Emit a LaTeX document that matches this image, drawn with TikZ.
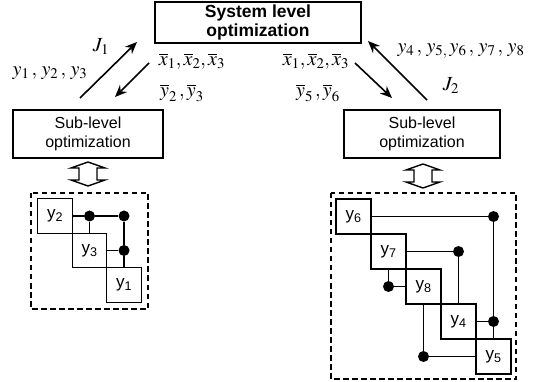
\documentclass[tikz,border=0pt]{standalone}
\usepackage{mathptmx}
\usepackage{fontspec}
\setsansfont{Liberation Sans}
\usetikzlibrary{arrows.meta}
\begin{document}
\begin{tikzpicture}[x=1pt,y=-1pt,
  box/.style={draw, line width=1.4pt, inner sep=0pt, align=center},
  cell/.style={draw, line width=1.3pt, minimum size=34.5pt, inner sep=0pt, font=\sffamily\fontsize{17}{17}\selectfont},
  dotn/.style={circle, fill, inner sep=0pt, minimum size=11pt},
  dsml/.style={line width=1.3pt},
  dashbox/.style={draw, line width=1.4pt, dash pattern=on 5.5pt off 3.5pt},
  arr/.style={-{Stealth[length=12pt,width=10pt]}, line width=1.6pt},
  lab/.style={inner sep=0pt, font=\fontsize{20}{20}\selectfont},
  dbl/.style={draw, line width=1.4pt, fill=white}
]
\useasboundingbox (0,0) rectangle (541,382);

% system box
\node[box, minimum width=206pt, minimum height=41pt,
      font=\sffamily\bfseries\fontsize{17.5}{18.5}\selectfont] (sys) at (258,22.5)
      {System level\\optimization};

% sub-level boxes
\node[box, minimum width=150pt, minimum height=48pt,
      font=\sffamily\fontsize{16}{19}\selectfont] (subL) at (88,134)
      {Sub-level\\optimization};
\node[box, minimum width=156pt, minimum height=48pt,
      font=\sffamily\fontsize{16}{19}\selectfont] (subR) at (422,134)
      {Sub-level\\optimization};

% arrows
\coordinate (a1s) at (80,98);  \coordinate (a1e) at (137,42);
\coordinate (a2s) at (149,63); \coordinate (a2e) at (115,97);
\coordinate (a3s) at (355,63); \coordinate (a3e) at (392,98);
\coordinate (a4s) at (427,100);\coordinate (a4e) at (368,41);
\draw[arr] (a1s) -- (a1e);
\draw[arr] (a2s) -- (a2e);
\draw[arr] (a3s) -- (a3e);
\draw[arr] (a4s) -- (a4e);

% labels
\node[lab] (J1) at (101,47) {$J_1$};
\node[lab] (yL) at (50,73) {$y_1\,,\,y_2\,,\,y_3$};
\node[lab] (xL) at (192,61) {$\overline{x}_1,\overline{x}_2,\overline{x}_3$};
\node[lab] (ybL) at (182,93) {$\overline{y}_2\,,\overline{y}_3$};
\node[lab] (xR) at (316,61) {$\overline{x}_1,\overline{x}_2,\overline{x}_3$};
\node[lab] (ybR) at (318,93) {$\overline{y}_5\,,\overline{y}_6$};
\node[lab] (yR) at (461,51) {$y_4\,,\,y_{5,}\,y_6\,,\,y_7\,,\,y_8$};
\node[lab] (J2) at (451,86) {$J_2$};

% double arrows
\coordinate (dL) at (88,162);
\draw[dbl] (dL) -- ++(17,6) -- ++(-8,0) -- ++(0,12) -- ++(8,0) -- ++(-17,6)
  -- ++(-17,-6) -- ++(8,0) -- ++(0,-12) -- ++(-8,0) -- cycle;
\coordinate (dR) at (423,164);
\draw[dbl] (dR) -- ++(17,6) -- ++(-8,0) -- ++(0,12) -- ++(8,0) -- ++(-17,6)
  -- ++(-17,-6) -- ++(8,0) -- ++(0,-12) -- ++(-8,0) -- cycle;

% dashed boxes
\draw[dashbox] (31,193) rectangle (148,309);
\draw[dashbox] (331,193) rectangle (516,379);

% left DSM
\node[cell] (y2) at (55,216) {y\textsubscript{2}};
\node[cell] (y3) at (89.5,250.5) {y\textsubscript{3}};
\node[cell] (y1) at (124,285) {y\textsubscript{1}};
\node[dotn] (l12) at (89.5,216) {};
\node[dotn] (l13) at (124,216) {};
\node[dotn] (l23) at (124,250.5) {};
\draw[dsml] (y2.east) -- (l12) -- (l13);
\draw[dsml] (l12) -- (y3.north);
\draw[dsml] (l13) -- (l23) -- (y1.north);
\draw[dsml] (y3.east) -- (l23);

% right DSM
\tikzset{cell/.append style={minimum size=35pt}}
\node[cell] (y6) at (353.5,216.5) {y\textsubscript{6}};
\node[cell] (y7) at (388.5,251.5) {y\textsubscript{7}};
\node[cell] (y8) at (423.5,286.5) {y\textsubscript{8}};
\node[cell] (y4) at (458.5,321.5) {y\textsubscript{4}};
\node[cell] (y5) at (493.5,356.5) {y\textsubscript{5}};
\node[dotn] (ra) at (493.5,216.5) {};
\node[dotn] (rb) at (493.5,321.5) {};
\node[dotn] (rc) at (458.5,251.5) {};
\node[dotn] (rd) at (388.5,286.5) {};
\node[dotn] (re) at (423.5,356.5) {};
\draw[dsml] (y6.east) -- (ra) -- (rb) -- (y5.north);
\draw[dsml] (y4.east) -- (rb);
\draw[dsml] (y7.east) -- (rc) -- (y4.north);
\draw[dsml] (y7.south) -- (rd) -- (y8.west);
\draw[dsml] (y8.south) -- (re) -- (y5.west);
\end{tikzpicture}
\end{document}
